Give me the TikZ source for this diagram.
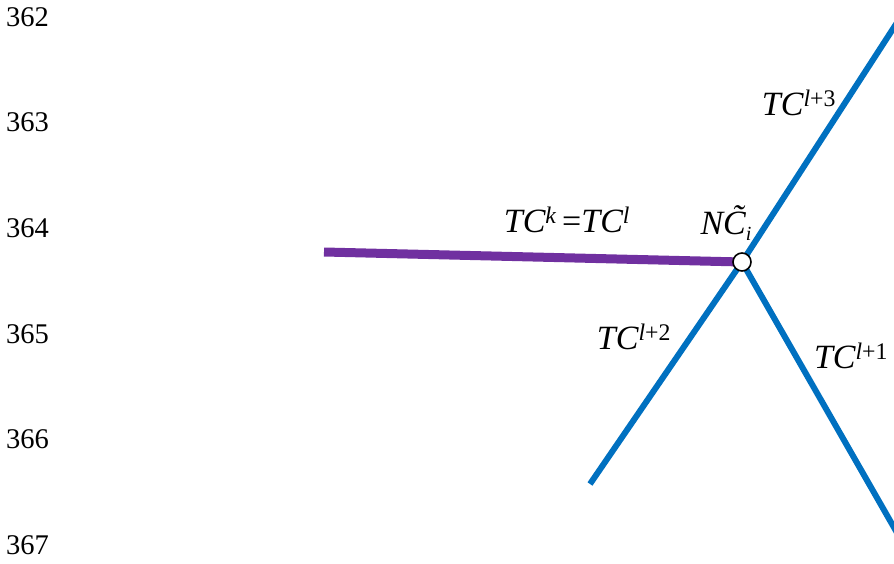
\documentclass[tikz,border=0pt]{standalone}
\usepackage{fontspec}
\setmainfont{Liberation Serif}
\usetikzlibrary{positioning}
\definecolor{linkblue}{RGB}{0,112,192}
\definecolor{linkpurple}{RGB}{112,48,160}
\begin{document}
\begin{tikzpicture}[x=1pt,y=-1pt,node distance=4pt]
  \tikzstyle{lineno}=[anchor=west,inner sep=0pt,font=\fontsize{28.5}{30}\selectfont]
  \tikzstyle{lbl}=[inner sep=0pt,font=\fontsize{34}{36}\selectfont\itshape]
  \tikzstyle{branch}=[linkblue,line width=6pt]
  \useasboundingbox (0,0) rectangle (894,564);
  % line numbers
  \foreach \n [count=\i from 0] in {362,...,367}
    \node[lineno] (no\n) at (6,17+105.6*\i) {\n};
  % the junction and the ends of the lines
  \coordinate (junc) at (742,262);
  \coordinate (west) at (324,252);
  \coordinate (ne) at (900,18);
  \coordinate (sw) at (590,484);
  \coordinate (se) at (900,538);
  \draw[line width=9pt,linkpurple] (west) -- (junc);
  \draw[branch] (junc) -- (ne);
  \draw[branch] (junc) -- (sw);
  \draw[branch] (junc) -- (se);
  \node[circle,draw,fill=white,line width=1.6pt,minimum size=18pt,inner sep=0pt] (hub) at (junc) {};
  % labels
  \node[lbl] (same) at (567,220) {TC\textsuperscript{k}\,{\upshape=}TC\textsuperscript{l}};
  \node[lbl] (nci) at (726,223) {N\~{C}\raisebox{-6pt}{\fontsize{20}{20}\selectfont i}};
  \node[lbl] (tc3) at (799,103) {TC\textsuperscript{l{\upshape+3}}};
  \node[lbl] (tc2) at (634,337) {TC\textsuperscript{l{\upshape+2}}};
  \node[lbl] (tc1) at (851,356) {TC\textsuperscript{l{\upshape+1}}};
\end{tikzpicture}
\end{document}
